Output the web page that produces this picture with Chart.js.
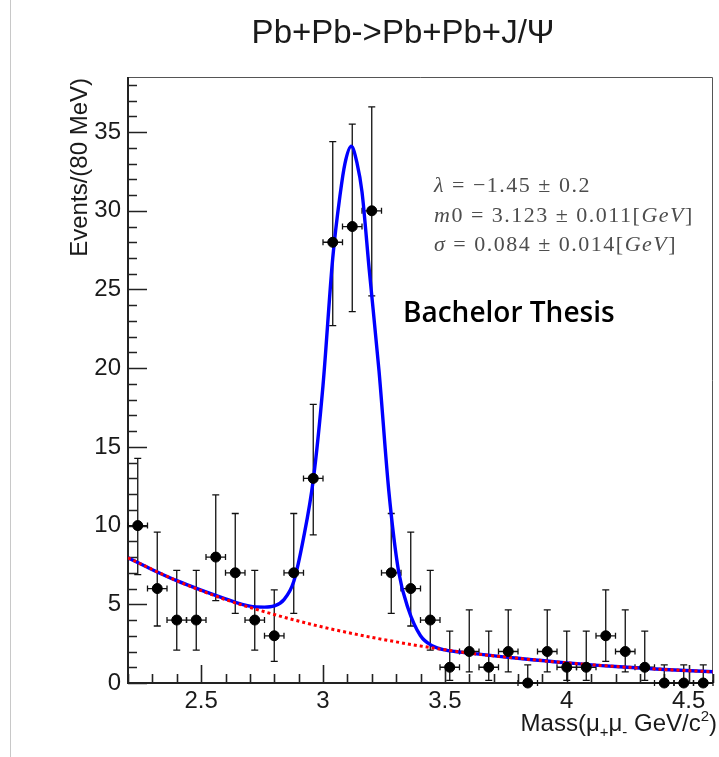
<!DOCTYPE html>
<html>
<head>
<meta charset="utf-8">
<script src="https://cdn.jsdelivr.net/npm/chart.js@4.4.1/dist/chart.umd.min.js"></script>
<style>
  body { margin: 0; background: #fff; }
  #wrap { position: relative; width: 719px; height: 757px; }
  #edge { position: absolute; left: 10px; top: 0; width: 1px; height: 757px; background: #c8c8c8; }
  canvas { position: absolute; left: 0; top: 0; }
</style>
</head>
<body>
<div id="wrap">
  <div id="edge"></div>
  <canvas id="massChart" width="719" height="757"></canvas>
</div>
<script>
// DATA

const binCenters = [2.24, 2.32, 2.40, 2.48, 2.56, 2.64, 2.72, 2.80, 2.88, 2.96,
                    3.04, 3.12, 3.20, 3.28, 3.36, 3.44, 3.52, 3.60, 3.68, 3.76,
                    3.84, 3.92, 4.00, 4.08, 4.16, 4.24, 4.32, 4.40, 4.48, 4.56];
const counts = [10, 6, 4, 4, 8, 7, 4, 3, 7, 13,
                28, 29, 30, 7, 6, 4, 1, 2, 1, 2,
                0, 2, 1, 1, 3, 2, 1, 0, 0, 0];
const errLow = [6.89, 3.62, 2.09, 2.09, 5.23, 4.42, 2.09, 1.37, 4.42, 9.41,
                22.7, 23.6, 24.6, 4.42, 3.62, 2.09, 0.17, 0.71, 0.17, 0.71,
                0, 0.71, 0.17, 0.17, 1.37, 0.71, 0.17, 0, 0, 0];
const errHigh = [14.27, 9.58, 7.16, 7.16, 11.95, 10.77, 7.16, 5.92, 10.77, 17.7,
                 34.4, 35.5, 36.6, 10.77, 9.58, 7.16, 3.3, 4.64, 3.3, 4.64,
                 1.15, 4.64, 3.3, 3.3, 5.92, 4.64, 3.3, 1.15, 1.15, 1.15];
const binHalfWidth = 0.04;

// total fit (blue)
const fitMass = [2.20, 2.30, 2.40, 2.50, 2.60, 2.70, 2.76, 2.80, 2.84, 2.88,
                 2.92, 2.96, 3.00, 3.04, 3.07, 3.09, 3.116, 3.14, 3.16, 3.19,
                 3.23, 3.27, 3.31, 3.35, 3.40, 3.45, 3.50, 3.60, 3.80, 4.00,
                 4.20, 4.40, 4.60];
const fitTotal = [7.95, 7.2, 6.5, 5.9, 5.35, 4.88, 4.82, 4.9, 5.3, 6.45,
                  9.2, 12.9, 18.9, 27.0, 31.0, 33.0, 34.1, 33.0, 31.2, 26.2,
                  19.8, 12.2, 7.1, 4.7, 3.0, 2.35, 2.1, 1.9, 1.57, 1.28,
                  1.05, 0.86, 0.71];

// background (red dotted)
const bkgMass = [2.2, 2.4, 2.6, 2.8, 3.0, 3.2, 3.4, 3.6, 3.8, 4.0, 4.2, 4.4, 4.6];
const bkgValues = [7.95, 6.5, 5.3, 4.35, 3.55, 2.9, 2.35, 1.9, 1.57, 1.28, 1.05, 0.86, 0.71];

const xTickValues = [2.5, 3, 3.5, 4, 4.5];
const yTickValues = [0, 5, 10, 15, 20, 25, 30, 35];

// FRAME AND ROOT STYLE TICKS

const frameTicks = {
  id: "frameTicks",
  beforeDatasetsDraw(chart) {
    const { ctx, chartArea: a, scales: { x, y } } = chart;
    ctx.save();

    ctx.strokeStyle = "#555";
    ctx.lineWidth = 1;
    ctx.beginPath();
    ctx.moveTo(a.left, a.top + 0.5);
    ctx.lineTo(a.right - 0.5, a.top + 0.5);
    ctx.lineTo(a.right - 0.5, a.bottom);
    ctx.stroke();

    ctx.strokeStyle = "#222";
    ctx.lineWidth = 1.6;
    ctx.beginPath();
    for (let k = 0; k <= 38; k++) {
      const py = Math.round(y.getPixelForValue(k)) + 0.5;
      const len = k % 5 === 0 ? 19 : 9;
      ctx.moveTo(a.left, py);
      ctx.lineTo(a.left + len, py);
    }
    for (let k = 22; k <= 46; k++) {
      const px = Math.round(x.getPixelForValue(k / 10)) + 0.5;
      const len = k % 5 === 0 ? 18 : 9;
      ctx.moveTo(px, a.bottom);
      ctx.lineTo(px, a.bottom - len);
    }
    ctx.stroke();

    ctx.lineWidth = 2;
    ctx.beginPath();
    ctx.moveTo(a.left, a.top);
    ctx.lineTo(a.left, a.bottom);
    ctx.lineTo(a.right, a.bottom);
    ctx.stroke();

    ctx.restore();
  }
};

// ERROR BARS

const errorBars = {
  id: "errorBars",
  beforeDatasetsDraw(chart) {
    const { ctx, scales: { x, y } } = chart;
    ctx.save();
    ctx.strokeStyle = "#111";
    ctx.lineWidth = 1.3;
    binCenters.forEach((m, i) => {
      const px = x.getPixelForValue(m);
      const py = y.getPixelForValue(counts[i]);
      const yLo = y.getPixelForValue(errLow[i]);
      const yHi = y.getPixelForValue(errHigh[i]);
      const xL = x.getPixelForValue(m - binHalfWidth);
      const xR = x.getPixelForValue(m + binHalfWidth);
      ctx.beginPath();
      ctx.moveTo(px, yLo); ctx.lineTo(px, yHi);
      ctx.moveTo(px - 3.5, yLo); ctx.lineTo(px + 3.5, yLo);
      ctx.moveTo(px - 3.5, yHi); ctx.lineTo(px + 3.5, yHi);
      ctx.moveTo(xL, py); ctx.lineTo(xR, py);
      ctx.moveTo(xL, py - 3); ctx.lineTo(xL, py + 3);
      ctx.moveTo(xR, py - 3); ctx.lineTo(xR, py + 3);
      ctx.stroke();
    });
    ctx.restore();
  }
};

// TEXTS

function drawRuns(ctx, runs, x, yBase) {
  let cx = x;
  runs.forEach(r => {
    ctx.font = r[1];
    ctx.fillText(r[0], cx, yBase + (r[2] || 0));
    cx += ctx.measureText(r[0]).width;
  });
  return cx;
}

function runsWidth(ctx, runs) {
  let w = 0;
  runs.forEach(r => { ctx.font = r[1]; w += ctx.measureText(r[0]).width; });
  return w;
}

const texts = {
  id: "texts",
  afterDraw(chart) {
    const ctx = chart.ctx;
    ctx.save();
    ctx.textBaseline = "alphabetic";

    // title
    ctx.fillStyle = "#1a1a1a";
    ctx.font = "33px 'Liberation Sans'";
    ctx.textAlign = "center";
    ctx.fillText("Pb+Pb->Pb+Pb+J/\u03A8", 403, 43);

    // y title
    ctx.save();
    ctx.translate(87, 78);
    ctx.rotate(-Math.PI / 2);
    ctx.textAlign = "right";
    ctx.font = "24px 'Liberation Sans'";
    ctx.fillText("Events/(80 MeV)", 0, 0);
    ctx.restore();

    // x title
    ctx.textAlign = "left";
    const big = "24px 'Liberation Sans'";
    const small = "15px 'Liberation Sans'";
    const xRuns = [
      ["Mass(\u03BC", big], ["+", small, 6], ["\u03BC", big], ["-", small, 6],
      [" GeV/c", big], ["2", small, -10], [")", big]
    ];
    drawRuns(ctx, xRuns, 717 - runsWidth(ctx, xRuns), 731);

    // fit parameters
    ctx.fillStyle = "#4d4d4d";
    ctx.letterSpacing = "1.5px";
    const rm = "22px 'Liberation Serif'";
    const it = "italic 22px 'Liberation Serif'";
    drawRuns(ctx, [["\u03BB", it], [" = \u22121.45 \u00B1 0.2", rm]], 434, 192);
    drawRuns(ctx, [["m", it], ["0 = 3.123 \u00B1 0.011[", rm], ["GeV", it], ["]", rm]], 434, 222);
    drawRuns(ctx, [["\u03C3", it], [" = 0.084 \u00B1 0.014[", rm], ["GeV", it], ["]", rm]], 434, 251);
    ctx.letterSpacing = "0px";

    // watermark
    ctx.fillStyle = "#000";
    ctx.font = "600 28px 'Open Sans'";
    ctx.fillText("Bachelor Thesis", 403, 322);

    ctx.restore();
  }
};

// CHART

new Chart(document.getElementById("massChart"), {
  type: "scatter",
  data: {
    datasets: [
      {
        label: "data",
        data: binCenters.map((m, i) => ({ x: m, y: counts[i] })),
        backgroundColor: "#000",
        borderColor: "#000",
        pointRadius: 5,
        pointHoverRadius: 5,
        clip: false
      },
      {
        type: "line",
        label: "background",
        data: bkgMass.map((m, i) => ({ x: m, y: bkgValues[i] })),
        borderColor: "#ff0000",
        borderWidth: 3,
        borderDash: [3, 3],
        pointRadius: 0,
        cubicInterpolationMode: "monotone",
        fill: false
      },
      {
        type: "line",
        label: "total",
        data: fitMass.map((m, i) => ({ x: m, y: fitTotal[i] })),
        borderColor: "#0000ff",
        borderWidth: 3.4,
        pointRadius: 0,
        cubicInterpolationMode: "monotone",
        fill: false
      }
    ]
  },
  options: {
    responsive: false,
    animation: false,
    events: [],
    layout: { padding: { top: 77, right: 1, left: 0, bottom: 0 } },
    plugins: { legend: { display: false }, tooltip: { enabled: false } },
    scales: {
      x: {
        type: "linear",
        min: 2.2,
        max: 4.6,
        grid: { display: false },
        border: { display: false },
        afterBuildTicks: s => { s.ticks = xTickValues.map(v => ({ value: v })); },
        afterFit: s => { s.height = 74; },
        ticks: {
          padding: -4,
          color: "#1a1a1a",
          font: { family: "'Liberation Sans'", size: 24 },
          maxRotation: 0,
          autoSkip: false,
          callback: v => String(v)
        }
      },
      y: {
        type: "linear",
        min: 0,
        max: 38.5,
        grid: { display: false },
        border: { display: false },
        afterBuildTicks: s => { s.ticks = yTickValues.map(v => ({ value: v })); },
        afterFit: s => { s.width = 128; },
        ticks: {
          padding: -1,
          color: "#1a1a1a",
          font: { family: "'Liberation Sans'", size: 24 },
          autoSkip: false,
          callback: v => String(v)
        }
      }
    }
  },
  plugins: [frameTicks, errorBars, texts]
});
</script>
</body>
</html>
